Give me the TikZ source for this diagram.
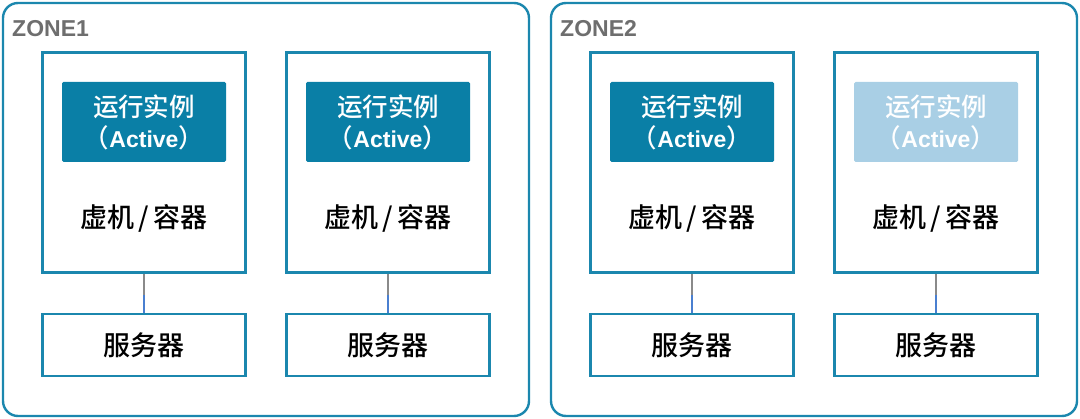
\documentclass[tikz,border=0pt]{standalone}
\usepackage{fontspec}
\setmainfont{Noto Sans CJK SC}[UprightFont=* Medium, BoldFont=* Bold]
\newfontfamily\zonefont{Liberation Sans}
\definecolor{zoneblue}{HTML}{1B87AE}
\definecolor{activedark}{HTML}{0A7FA6}
\definecolor{activelight}{HTML}{A9CFE5}
\definecolor{zonegray}{HTML}{6E6E6E}
\definecolor{linkgray}{HTML}{8A8A8A}
\definecolor{linkblue}{HTML}{4A7FD0}
\tikzset{
  zonebox/.style={draw=zoneblue, line width=2.4pt, rounded corners=15pt},
  vmbox/.style={draw=zoneblue, line width=2.8pt, minimum width=203pt, minimum height=220pt, inner sep=0pt},
  srvbox/.style={draw=zoneblue, line width=2.8pt, minimum width=203pt, minimum height=62pt, inner sep=0pt, font=\fontsize{27}{30}\selectfont},
  actbox/.style={fill=#1, rounded corners=1.5pt, minimum width=164pt, minimum height=80pt, inner sep=0pt, text=white, align=center, font=\fontsize{25.5}{31}\selectfont},
  vmlabel/.style={font=\fontsize{27}{30}\selectfont},
  zonelabel/.style={anchor=base west, text=zonegray, font=\zonefont\bfseries\fontsize{23}{26}\selectfont, inner sep=0pt},
}
\begin{document}
\begin{tikzpicture}[x=1pt,y=-1pt]
\useasboundingbox (0,0) rectangle (1080,419);
\draw[zonebox] (3,3) rectangle (529,416);
\draw[zonebox] (551,3) rectangle (1077,416);
\node[zonelabel] (z1) at (12,37) {ZONE1};
\node[zonelabel] (z2) at (560,37) {ZONE2};
\foreach \i/\x/\c in {1/144/activedark, 2/388/activedark, 3/692/activedark, 4/936/activelight}{
  \node[vmbox] (vm\i) at (\x,162.5) {};
  \node[actbox=\c] (act\i) at (\x,122) {运行实例\\（{\zonefont\bfseries\fontsize{23}{31}\selectfont Active}）};
  \node[vmlabel] (vml\i) at (\x,218) {虚机\,/\,容器};
  \node[srvbox] (srv\i) at (\x,345) {服务器};
  \coordinate (mid\i) at (\x,295);
  \draw[linkgray, line width=2.6pt] (vm\i.south) -- (mid\i);
  \draw[linkblue, line width=2.6pt] (mid\i) -- (srv\i.north);
}
\end{tikzpicture}
\end{document}
